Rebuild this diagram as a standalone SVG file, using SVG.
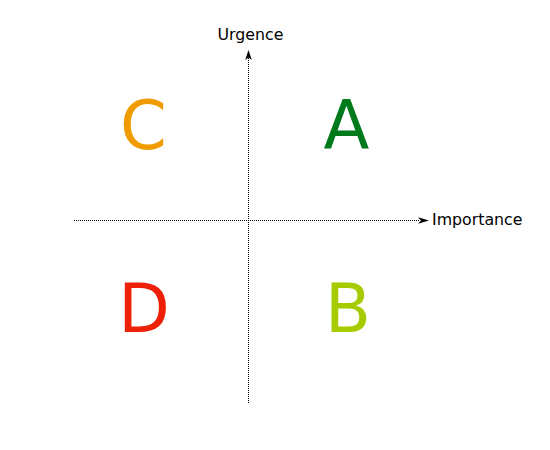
<svg xmlns="http://www.w3.org/2000/svg" width="550" height="450" viewBox="0 0 550 450">
<style>
.axis{stroke:#000;stroke-width:1;stroke-dasharray:1,1;fill:none}
.q{font-family:"DejaVu Sans",sans-serif;font-size:67px;text-anchor:middle}
.lbl{font-family:"DejaVu Sans",sans-serif;font-size:15.8px;fill:#000}
.head{fill:#000}
</style>
<rect width="550" height="450" fill="#fff"/>
<g id="connectors">
<line class="axis" x1="248.5" y1="403" x2="248.5" y2="58"/>
<path class="head" d="M248.5,50 L251.8,60 L248.5,57.5 L245.2,60 Z"/>
<line class="axis" x1="74" y1="220.5" x2="420" y2="220.5"/>
<path class="head" d="M429,220.5 L418,217.2 L421,220.5 L418,223.8 Z"/>
</g>
<g id="urgence"><text class="lbl" x="250.5" y="40" text-anchor="middle">Urgence</text></g>
<g id="importance"><text class="lbl" x="432" y="225">Importance</text></g>
<g id="A"><text class="q" x="346.5" y="149" fill="#007a1a">A</text></g>
<g id="C"><text class="q" x="143.5" y="149" fill="#f09c00">C</text></g>
<g id="D"><text class="q" x="144" y="332" fill="#ee2007">D</text></g>
<g id="B"><text class="q" x="348" y="332" fill="#a6cc00">B</text></g>
</svg>
